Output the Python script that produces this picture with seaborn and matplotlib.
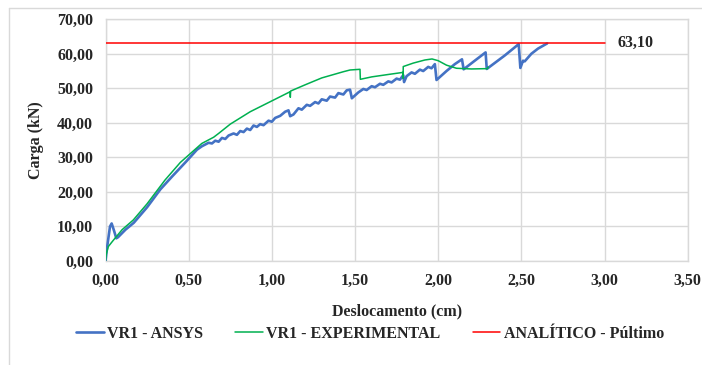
import matplotlib
matplotlib.use("Agg")
import matplotlib.pyplot as plt
from matplotlib.lines import Line2D
from matplotlib.ticker import FuncFormatter, MultipleLocator
import seaborn as sns
import pandas as pd

# --- Data ---
ansys_x = [0.000, 0.010, 0.027, 0.037, 0.050, 0.065, 0.075, 0.120, 0.170, 0.250,
           0.330, 0.400, 0.480, 0.550, 0.580, 0.620, 0.640, 0.660, 0.680, 0.700,
           0.720, 0.740, 0.770, 0.790, 0.810, 0.830, 0.850, 0.870, 0.890, 0.910,
           0.930, 0.950, 0.980, 1.000, 1.020, 1.050, 1.080, 1.100, 1.110, 1.130,
           1.160, 1.180, 1.210, 1.230, 1.260, 1.280, 1.300, 1.330, 1.350, 1.380,
           1.400, 1.430, 1.450, 1.470, 1.481, 1.520, 1.550, 1.570, 1.600, 1.620,
           1.650, 1.670, 1.700, 1.720, 1.750, 1.770, 1.790, 1.795, 1.810, 1.840,
           1.860, 1.890, 1.910, 1.940, 1.960, 1.980, 1.990, 2.050, 2.100, 2.143,
           2.153, 2.220, 2.285, 2.292, 2.400, 2.484, 2.494, 2.510, 2.520, 2.560,
           2.600, 2.655]
ansys_y = [0.0, 4.0, 9.9, 10.8, 8.9, 6.5, 6.8, 9.0, 11.0, 15.5,
           20.7, 24.4, 28.5, 32.2, 33.2, 34.2, 34.0, 34.8, 34.5, 35.6,
           35.3, 36.3, 36.9, 36.5, 37.6, 37.3, 38.3, 37.9, 39.2, 38.8,
           39.6, 39.3, 40.6, 40.3, 41.4, 42.0, 43.2, 43.6, 41.9, 42.4,
           44.2, 43.8, 45.2, 44.9, 46.0, 45.6, 46.8, 46.4, 47.6, 47.3,
           48.6, 48.2, 49.4, 49.6, 47.1, 48.8, 49.8, 49.5, 50.6, 50.3,
           51.3, 51.0, 52.0, 51.7, 52.8, 52.5, 53.8, 51.8, 53.5, 54.6,
           54.2, 55.4, 55.0, 56.2, 55.8, 57.0, 52.4, 55.0, 57.0, 58.4,
           55.5, 58.0, 60.4, 55.6, 59.5, 62.8, 55.9, 58.0, 57.8, 60.0,
           61.5, 63.0]

exp_x = [0.000, 0.005, 0.017, 0.040, 0.057, 0.100, 0.167, 0.250, 0.358, 0.450,
         0.579, 0.650, 0.680, 0.750, 0.870, 0.990, 1.110, 1.111, 1.113, 1.200,
         1.300, 1.430, 1.470, 1.530, 1.532, 1.600, 1.700, 1.788, 1.789, 1.790,
         1.850, 1.920, 1.963, 2.000, 2.050, 2.110, 2.200, 2.297, 2.300]
exp_y = [0.0, 2.0, 4.1, 5.5, 6.5, 9.0, 11.8, 16.5, 23.4, 28.5,
         34.0, 35.8, 36.9, 39.6, 43.2, 46.1, 49.0, 47.4, 49.2, 51.0,
         53.0, 54.8, 55.3, 55.5, 52.6, 53.3, 54.0, 54.6, 52.9, 56.3,
         57.3, 58.2, 58.5, 58.0, 56.7, 55.8, 55.6, 55.7, 56.2]

analytic_x = [0.0, 3.0]
analytic_y = [63.1, 63.1]
analytic_label = "63,10"

series_names = ["VR1 - ANSYS", "VR1 - EXPERIMENTAL", "ANALÍTICO - Púltimo"]
series_colors = ["#4472C4", "#00B050", "#FF0000"]
series_widths = [1.9, 1.1, 1.1]

frames = [
    pd.DataFrame({"x": ansys_x, "y": ansys_y, "serie": series_names[0]}),
    pd.DataFrame({"x": exp_x, "y": exp_y, "serie": series_names[1]}),
    pd.DataFrame({"x": analytic_x, "y": analytic_y, "serie": series_names[2]}),
]

# --- Style ---
sns.set_style("whitegrid")
plt.rcParams["font.family"] = ["Liberation Serif", "DejaVu Serif"]
plt.rcParams["font.weight"] = "bold"
FS = 11.5

fig = plt.figure(figsize=(7.02, 3.65), dpi=100)
ax = fig.add_axes([105.5 / 702, 1 - 260.7 / 365, (687.7 - 105.5) / 702, (260.7 - 19.3) / 365])

for df, name, color, lw in zip(frames, series_names, series_colors, series_widths):
    sns.lineplot(data=df, x="x", y="y", sort=False, estimator=None,
                 color=color, linewidth=lw, label=name, ax=ax, zorder=3)

ax.text(3.075, 63.1, analytic_label, ha="left", va="center",
        fontsize=FS, fontweight="bold")

# --- Axes ---
ax.set_xlim(0, 3.5)
ax.set_ylim(0, 70)
ax.xaxis.set_major_locator(MultipleLocator(0.5))
ax.yaxis.set_major_locator(MultipleLocator(10))
fmt = FuncFormatter(lambda v, p: f"{v:.2f}".replace(".", ","))
ax.xaxis.set_major_formatter(fmt)
ax.yaxis.set_major_formatter(fmt)
ax.tick_params(axis="both", length=0, labelsize=FS, pad=9)
for lab in ax.get_xticklabels() + ax.get_yticklabels():
    lab.set_fontweight("bold")
ax.grid(True, color="#D9D9D9", linewidth=1)
for s in ax.spines.values():
    s.set_color("#D9D9D9")
    s.set_linewidth(1)

ax.set_xlabel("Deslocamento (cm)", fontsize=FS, fontweight="bold", labelpad=10)
ax.set_ylabel("Carga (kN)", fontsize=FS, fontweight="bold", labelpad=9)

# --- Legend ---
handles, labels = ax.get_legend_handles_labels()
ax.get_legend().remove()
leg = fig.legend(handles, labels, loc="center", bbox_to_anchor=(370 / 702, 1 - 334 / 365),
                 ncol=3, frameon=False, handlelength=1.75,
                 handletextpad=0.2, columnspacing=2.0,
                 prop={"family": "Liberation Serif", "weight": "bold", "size": FS})

# outer chart border (left and top visible)
fig.add_artist(Line2D([8.5 / 702, 8.5 / 702], [0, 1 - 7.5 / 365], color="#D9D9D9", lw=1))
fig.add_artist(Line2D([8.5 / 702, 1], [1 - 7.5 / 365, 1 - 7.5 / 365], color="#D9D9D9", lw=1))

fig.savefig("out.png", dpi=100)
